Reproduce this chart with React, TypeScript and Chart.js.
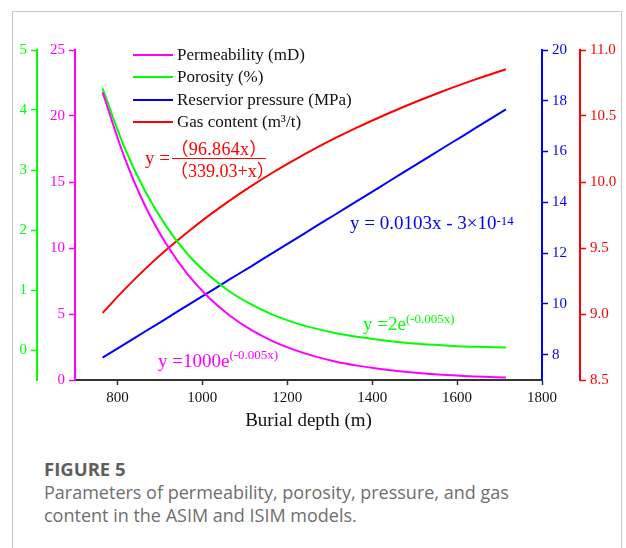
import React, { useEffect, useRef } from 'react';
import { Chart, registerables } from 'chart.js';

Chart.register(...registerables);

// ---- data ----
const depth = [765, 815, 865, 915, 965, 1015, 1065, 1115, 1165, 1215, 1265, 1315, 1365, 1415, 1465, 1515, 1565, 1615, 1665, 1715];
const permeability = [21.8, 17.0, 13.2, 10.3, 8.02, 6.25, 4.87, 3.79, 2.95, 2.30, 1.79, 1.39, 1.09, 0.85, 0.66, 0.51, 0.40, 0.31, 0.24, 0.19];
const porosity = [4.36, 3.40, 2.65, 2.06, 1.60, 1.25, 0.97, 0.76, 0.59, 0.46, 0.36, 0.28, 0.22, 0.17, 0.13, 0.10, 0.08, 0.06, 0.05, 0.04];
const pressure = [7.88, 8.39, 8.91, 9.42, 9.94, 10.45, 10.97, 11.48, 12.0, 12.51, 13.03, 13.54, 14.06, 14.57, 15.09, 15.6, 16.12, 16.63, 17.15, 17.66];
const gasContent = [9.008, 9.181, 9.340, 9.486, 9.620, 9.745, 9.861, 9.969, 10.070, 10.164, 10.253, 10.336, 10.414, 10.487, 10.557, 10.623, 10.686, 10.745, 10.801, 10.854];

const seriesNames = ['Permeability (mD)', 'Porosity (%)', 'Reservior pressure (MPa)', 'Gas content (m³/t)'];
const xTicks = [800, 1000, 1200, 1400, 1600, 1800];
const permTicks = [0, 5, 10, 15, 20, 25];
const poroTicks = [0, 1, 2, 3, 4, 5];
const pressTicks = [8, 10, 12, 14, 16, 18, 20];
const gasTicks = [8.5, 9.0, 9.5, 10.0, 10.5, 11.0];

const MAGENTA = '#ff00ff';
const GREEN = '#00ff00';
const BLUE = '#0000ff';
const RED = '#ff0000';
const SERIF = "'Liberation Serif', 'Times New Roman', serif";
const EQ_FONT = "'Liberation Serif', 'Noto Sans CJK SC', serif";
const CAPTION_FONT = "'Open Sans', Lato, sans-serif";

Chart.defaults.font.family = SERIF;
Chart.defaults.font.size = 15;

function yAxis(color: string, ticks: number[], min: number, max: number, position: string, weight: number, width: number, decimals: number) {
  return {
    type: 'linear',
    position,
    weight,
    min,
    max,
    afterBuildTicks: (s: any) => { s.ticks = ticks.map((v) => ({ value: v })); },
    afterFit: (s: any) => { s.width = width; },
    grid: { drawOnChartArea: false, drawTicks: true, tickLength: 6, tickWidth: 1.5, color },
    border: { display: true, color, width: 2 },
    ticks: {
      color,
      padding: 4,
      font: { family: SERIF, size: 15 },
      callback: (v: any) => Number(v).toFixed(decimals),
    },
  };
}

function line(label: string, ys: number[], color: string, axis: string) {
  return {
    label,
    data: depth.map((d, i) => ({ x: d, y: ys[i] })),
    yAxisID: axis,
    borderColor: color,
    backgroundColor: color,
    borderWidth: 2,
    pointRadius: 0,
    fill: false,
    tension: 0.35,
  };
}

const abs = (left: number, top: number, extra: any = {}) => ({ position: 'absolute', left, top, whiteSpace: 'nowrap', ...extra });

export default function App() {
  const ref = useRef<HTMLCanvasElement>(null);

  useEffect(() => {
    const chart = new Chart(ref.current as HTMLCanvasElement, {
      type: 'line',
      data: {
        datasets: [
          line(seriesNames[0], permeability, MAGENTA, 'yPerm'),
          line(seriesNames[1], porosity, GREEN, 'yPoro'),
          line(seriesNames[2], pressure, BLUE, 'yPress'),
          line(seriesNames[3], gasContent, RED, 'yGas'),
        ],
      } as any,
      options: {
        animation: false,
        responsive: false,
        devicePixelRatio: 1,
        font: { family: SERIF, size: 15 },
        layout: { padding: { left: 12, right: 6, top: 50, bottom: 0 } },
        plugins: { legend: { display: false }, tooltip: { enabled: false } },
        scales: {
          x: {
            type: 'linear',
            position: 'bottom',
            min: 700,
            max: 1800,
            afterBuildTicks: (s: any) => { s.ticks = xTicks.map((v) => ({ value: v })); },
            afterFit: (s: any) => { s.height = 60; },
            grid: { drawOnChartArea: false, drawTicks: true, tickLength: 5, tickWidth: 1.5, color: '#333' },
            border: { display: true, color: '#333', width: 2 },
            ticks: { color: '#111', padding: 4, font: { family: SERIF, size: 15 }, callback: (v: any) => String(v) },
            title: { display: true, text: 'Burial depth (m)', color: '#111', font: { family: SERIF, size: 19 }, padding: { top: 0, bottom: 8 } },
          },
          yPerm: yAxis(MAGENTA, permTicks, 0, 25, 'left', 0, 38, 0),
          yPoro: yAxis(GREEN, poroTicks, -0.5, 5, 'left', 1, 25, 0),
          yPress: yAxis(BLUE, pressTicks, 7, 20, 'right', 0, 38, 0),
          yGas: yAxis(RED, gasTicks, 8.5, 11, 'right', 1, 40, 1),
        } as any,
      } as any,
    });
    return () => chart.destroy();
  }, []);

  const legendColors = [MAGENTA, GREEN, BLUE, RED];
  const legendY = [55, 77.3, 99.5, 121.5];

  return (
    <div style={{ position: 'absolute', left: 0, top: 0, width: 626, height: 548, overflow: 'hidden', background: '#fff' }}>
      <div style={{ position: 'absolute', left: 12, top: 11, width: 610, height: 600, border: '1px solid #c8c8c8', boxSizing: 'border-box' }} />
      <canvas ref={ref} width={626} height={440} style={{ position: 'absolute', left: 0, top: 0, width: 626, height: 440 }} />

      {seriesNames.map((name, i) => (
        <React.Fragment key={name}>
          <div style={abs(133, legendY[i] - 1, { width: 40, height: 2, background: legendColors[i] }) as any} />
          <div style={abs(177, legendY[i] - 10, { fontFamily: SERIF, fontSize: 17, lineHeight: '20px', color: '#111' }) as any}>{name}</div>
        </React.Fragment>
      ))}

      {/* gas content equation */}
      <div style={abs(145, 158 - 11, { fontFamily: SERIF, fontSize: 19, lineHeight: '22px', color: RED }) as any}>y =</div>
      <div style={abs(170, 149 - 11, { width: 98, textAlign: 'center', fontFamily: EQ_FONT, fontSize: 18, lineHeight: '22px', color: RED, letterSpacing: 0.3 }) as any}>（96.864x）</div>
      <div style={abs(172, 158, { width: 94, height: 1, background: RED }) as any} />
      <div style={abs(170, 171 - 11, { width: 98, textAlign: 'center', fontFamily: EQ_FONT, fontSize: 18, lineHeight: '22px', color: RED }) as any}>（339.03+x）</div>

      {/* pressure equation */}
      <div style={abs(350, 223 - 11, { fontFamily: SERIF, fontSize: 19, lineHeight: '22px', color: BLUE }) as any}>
        y = 0.0103x - 3×10<span style={{ fontSize: 13, position: 'relative', top: -4 }}>-14</span>
      </div>

      {/* porosity equation */}
      <div style={abs(363, 324 - 11, { fontFamily: SERIF, fontSize: 19, lineHeight: '22px', color: GREEN }) as any}>
        y =2e<span style={{ fontSize: 13, position: 'relative', top: -7 }}>(-0.005x)</span>
      </div>

      {/* permeability equation */}
      <div style={abs(158, 361 - 11, { fontFamily: SERIF, fontSize: 19, lineHeight: '22px', color: MAGENTA }) as any}>
        y =1000e<span style={{ fontSize: 13, position: 'relative', top: -8 }}>(-0.005x)</span>
      </div>

      {/* caption */}
      <div style={abs(44, 457, { fontFamily: CAPTION_FONT, fontWeight: 700, fontSize: 18.5, lineHeight: '23.4px', color: '#5e5e5e' }) as any}>FIGURE 5</div>
      <div style={{ position: 'absolute', left: 44, top: 481, width: 575, fontFamily: CAPTION_FONT, fontSize: 18, lineHeight: '23.4px', color: '#6e6e6e' }}>
        Parameters of permeability, porosity, pressure, and gas<br />content in the ASIM and ISIM models.
      </div>
    </div>
  );
}
